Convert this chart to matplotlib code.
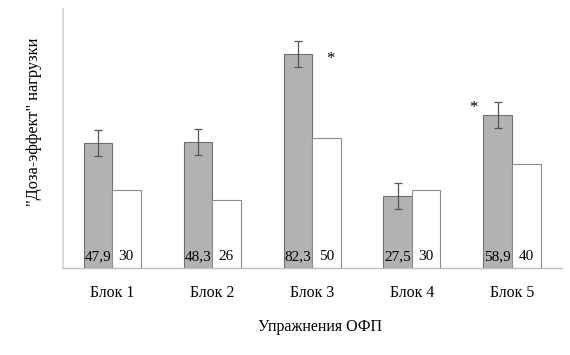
import matplotlib.pyplot as plt
import numpy as np

plt.rcParams['font.family'] = ['Liberation Serif', 'DejaVu Serif']

blocks = ["Блок 1", "Блок 2", "Блок 3", "Блок 4", "Блок 5"]
dose = [47.9, 48.3, 82.3, 27.5, 58.9]
dose_err = [5, 5, 5, 5, 5]
effect = [30, 26, 50, 30, 40]
dose_labels = ["47,9", "48,3", "82,3", "27,5", "58,9"]
effect_labels = ["30", "26", "50", "30", "40"]

W, H = 570, 355
fig = plt.figure(figsize=(W / 100, H / 100), dpi=100)
# axes box in pixels: left 63, right 562, top 9, bottom 268
ax = fig.add_axes([63 / W, 1 - 268 / H, (562 - 63) / W, (268 - 9) / H])

x = np.arange(len(blocks))
bw = 0.285

ax.bar(x - bw / 2, dose, width=bw, color="#b2b2b2", edgecolor="#6e6e6e", linewidth=0.8,
       yerr=dose_err, error_kw=dict(ecolor="#555555", elinewidth=0.9, capsize=3, capthick=0.9))
ax.bar(x + bw / 2, effect, width=bw, color="white", edgecolor="#8c8c8c", linewidth=0.8)

for i in range(len(blocks)):
    ax.text(x[i] - bw / 2, 4.5, dose_labels[i], ha="center", va="center", fontsize=11)
    ax.text(x[i] + bw / 2, 4.5, effect_labels[i], ha="center", va="center", fontsize=11)

# significance marks
ax.text(x[2] + 0.18, dose[2] - 2, "*", ha="center", va="center", fontsize=12)
ax.text(x[4] - 0.39, 61.5, "*", ha="center", va="center", fontsize=12)

ax.set_xlim(-0.49, 4.5)
ax.set_ylim(0, 99.5)
ax.set_yticks([])
ax.set_xticks(x)
ax.set_xticklabels(blocks, fontsize=11.5)
ax.tick_params(axis="x", length=0, pad=12)

for s in ["top", "right"]:
    ax.spines[s].set_visible(False)
ax.spines["left"].set_color("#d9d9d9")
ax.spines["left"].set_linewidth(1.5)
ax.spines["bottom"].set_color("#bfbfbf")
ax.spines["bottom"].set_linewidth(1.0)

fig.text(34 / W, 1 - 122 / H, "\"Доза-эффект\" нагрузки", rotation=90,
         ha="center", va="center", fontsize=11.8)
fig.text(320 / W, 1 - 327 / H, "Упражнения ОФП", ha="center", va="center", fontsize=11.5)

fig.savefig("out.png", dpi=100)
